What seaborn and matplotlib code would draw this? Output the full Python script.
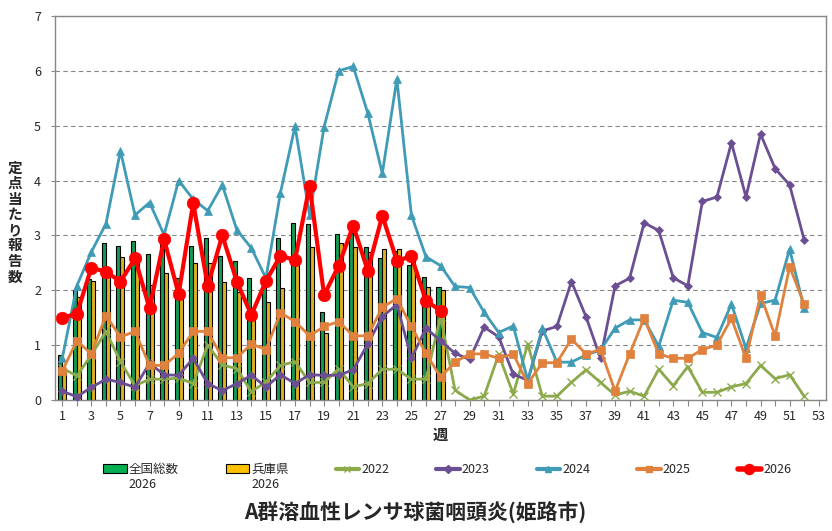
import numpy as np
import pandas as pd
import matplotlib
matplotlib.use("Agg")
import matplotlib.pyplot as plt
from matplotlib.patches import Patch
from matplotlib.lines import Line2D
import seaborn as sns

# data (weekly reports per sentinel site)
weeks = list(range(1, 53))
weeks_2026 = list(range(1, 28))

national_2026 = [0.82, 2.00, 2.21, 2.87, 2.81, 2.89, 2.66, 2.86, 2.22, 2.80,
                 2.95, 2.62, 2.53, 2.22, 2.20, 2.95, 3.22, 3.20, 1.60, 3.02,
                 3.05, 2.78, 2.58, 2.72, 2.46, 2.25, 2.06]
hyogo_2026 = [0.55, 1.88, 2.17, 2.30, 2.60, 2.50, 2.09, 2.31, 1.90, 2.49,
              2.50, 2.16, 1.96, 1.50, 1.78, 2.04, 2.55, 2.79, 1.22, 2.87,
              2.79, 2.70, 2.75, 2.75, 2.55, 2.06, 2.00]

y2022 = [0.58, 0.44, 0.82, 1.25, 0.70, 0.26, 0.38, 0.38, 0.40, 0.30,
         1.00, 0.64, 0.57, 0.15, 0.33, 0.63, 0.70, 0.32, 0.32, 0.57,
         0.24, 0.30, 0.56, 0.56, 0.38, 0.38, 1.52, 0.18, 0.00, 0.07,
         0.83, 0.11, 1.02, 0.07, 0.07, 0.32, 0.55, 0.32, 0.09, 0.16,
         0.07, 0.56, 0.26, 0.61, 0.14, 0.14, 0.24, 0.30, 0.63, 0.39,
         0.46, 0.07]
y2023 = [0.16, 0.06, 0.23, 0.38, 0.32, 0.23, 0.67, 0.46, 0.45, 0.76,
         0.30, 0.17, 0.30, 0.45, 0.24, 0.46, 0.30, 0.46, 0.45, 0.45,
         0.55, 1.02, 1.52, 1.74, 0.76, 1.31, 1.08, 0.85, 0.74, 1.33,
         1.15, 0.47, 0.36, 1.26, 1.34, 2.16, 1.52, 0.76, 2.08, 2.22,
         3.23, 3.09, 2.23, 2.08, 3.62, 3.70, 4.69, 3.70, 4.85, 4.22,
         3.92, 2.92]
y2024 = [0.76, 2.08, 2.70, 3.21, 4.54, 3.37, 3.60, 3.01, 4.00, 3.66,
         3.45, 3.92, 3.10, 2.77, 2.22, 3.78, 4.99, 3.37, 4.98, 6.00,
         6.08, 5.23, 4.13, 5.85, 3.37, 2.61, 2.45, 2.07, 2.05, 1.60,
         1.23, 1.35, 0.36, 1.31, 0.69, 0.69, 0.82, 0.91, 1.31, 1.46,
         1.46, 0.98, 1.82, 1.78, 1.23, 1.14, 1.75, 0.94, 1.76, 1.82,
         2.75, 1.67]
y2025 = [0.53, 1.08, 0.84, 1.54, 1.15, 1.25, 0.63, 0.63, 0.85, 1.25,
         1.25, 0.77, 0.77, 1.02, 0.92, 1.59, 1.43, 1.17, 1.34, 1.43,
         1.17, 1.17, 1.69, 1.85, 1.34, 0.85, 0.42, 0.69, 0.84, 0.84,
         0.76, 0.84, 0.30, 0.68, 0.68, 1.11, 0.84, 0.92, 0.16, 0.84,
         1.49, 0.84, 0.76, 0.76, 0.92, 1.00, 1.49, 0.76, 1.91, 1.17,
         2.43, 1.75]
y2026 = [1.50, 1.57, 2.41, 2.34, 2.16, 2.58, 1.67, 2.93, 1.93, 3.59,
         2.08, 3.00, 2.16, 1.55, 2.17, 2.63, 2.55, 3.91, 1.91, 2.45,
         3.18, 2.36, 3.36, 2.54, 2.62, 1.81, 1.63]

bar_labels = ["全国総数", "兵庫県"]
x_tick_labels = [str(w) if w % 2 == 1 else "" for w in range(1, 54)]

# colours / styles
BAR_COLORS = ["#00B050", "#FFC000"]
LINE_STYLES = [
    ("2022", weeks, y2022, "#8CAA4C", "x", 6, 2.0),
    ("2023", weeks, y2023, "#6B4F92", "D", 4.5, 2.0),
    ("2024", weeks, y2024, "#3F9BB6", "^", 6, 2.0),
    ("2025", weeks, y2025, "#E0823D", "s", 5.5, 2.0),
    ("2026", weeks_2026, y2026, "#FF0000", "o", 9, 3.0),
]
GRAY = "#878787"

sns.set_theme(style="white")
plt.rcParams["font.family"] = ["Noto Sans CJK JP", "DejaVu Sans"]

fig = plt.figure(figsize=(8.32, 5.31), dpi=100)
ax = fig.add_axes([55 / 832, 1 - 400 / 531, (826 - 55) / 832, (400 - 16) / 531])

bars_df = pd.DataFrame({
    "週": weeks_2026 * 2,
    "値": national_2026 + hyogo_2026,
    "系列": [bar_labels[0]] * len(weeks_2026) + [bar_labels[1]] * len(weeks_2026),
})
sns.barplot(data=bars_df, x="週", y="値", hue="系列", native_scale=True,
            width=0.55, dodge=True, palette=BAR_COLORS, edgecolor="black",
            linewidth=0.8, errorbar=None, legend=False, ax=ax)

for name, xs, ys, color, marker, ms, lw in LINE_STYLES:
    sns.lineplot(x=xs, y=ys, color=color, marker=marker, markersize=ms,
                 linewidth=lw, markeredgecolor=color,
                 markeredgewidth=1.0 if marker == "x" else 0.5,
                 ax=ax, zorder=5 if name == "2026" else 3)

ax.set_xlim(0.5, 53.5)
ax.set_ylim(0, 7)
ax.set_xticks(range(1, 54))
ax.set_xticklabels(x_tick_labels)
ax.set_yticks(range(0, 8))
ax.set_xlabel("")
ax.set_ylabel("")
ax.yaxis.grid(True, linestyle=(0, (4, 3)), color=GRAY, linewidth=0.8)
ax.xaxis.grid(False)
ax.set_axisbelow(True)
for sp in ax.spines.values():
    sp.set_visible(True)
    sp.set_color(GRAY)
    sp.set_linewidth(1.0)
ax.tick_params(axis="x", direction="out", length=4, width=0.8, color=GRAY,
               labelsize=9, pad=3, bottom=True)
ax.tick_params(axis="y", direction="out", length=3, width=0.8, color=GRAY,
               labelsize=9, pad=7, left=True)

# vertical stacked y label
fig.text(15 / 832, 1 - 222 / 531, "\n".join("定点当たり報告数"), ha="center",
         va="center", fontsize=10.5, fontweight="bold", linespacing=0.97)
fig.text(440 / 832, 1 - 435 / 531, "週", ha="center", va="center",
         fontsize=11, fontweight="bold")

handles = [Patch(facecolor=BAR_COLORS[0], edgecolor="black", linewidth=0.8),
           Patch(facecolor=BAR_COLORS[1], edgecolor="black", linewidth=0.8)]
labels = list(bar_labels)
for name, xs, ys, color, marker, ms, lw in LINE_STYLES:
    handles.append(Line2D([], [], color=color, marker=marker,
                          markersize=ms * 0.8, linewidth=lw + 1,
                          markeredgecolor=color))
    labels.append(name)

leg = fig.legend(handles, labels, ncol=7, loc="upper left",
                 bbox_to_anchor=(103 / 832, 1 - 463 / 531), frameon=False,
                 fontsize=9, handlelength=1.9, handletextpad=0.15,
                 columnspacing=3.75, borderpad=0, borderaxespad=0)

fig.canvas.draw()
for txt in leg.get_texts()[:2]:
    bb = txt.get_window_extent()
    fig.text(bb.x0 / fig.bbox.width, (bb.y0 - 2) / fig.bbox.height, "2026",
             ha="left", va="top", fontsize=9)

fig.text(415 / 832, 1 - 512 / 531, "A群溶血性レンサ球菌咽頭炎(姫路市)",
         ha="center", va="center", fontsize=15, fontweight="bold")

fig.savefig("out.png", dpi=100)
